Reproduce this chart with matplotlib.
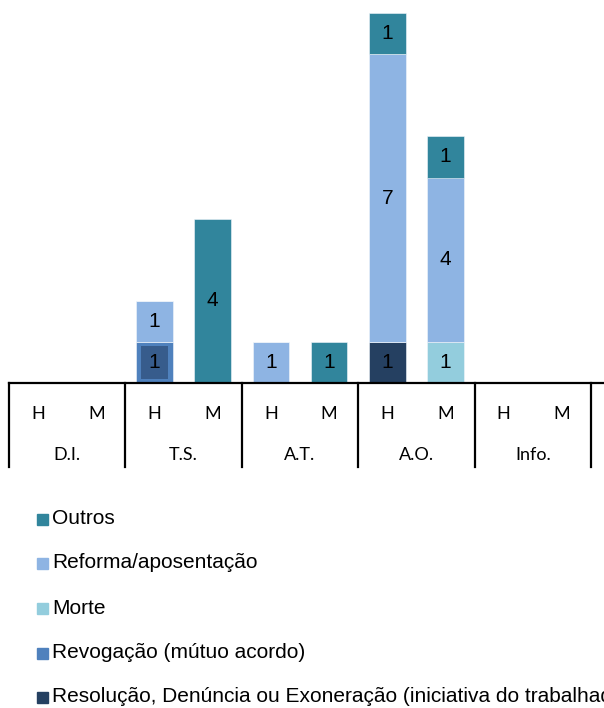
import numpy as np
import matplotlib.pyplot as plt
from matplotlib.patches import Rectangle

# Categories and sex sub-groups
grupos = ['D.I.', 'T.S.', 'A.T.', 'A.O.', 'Info.']
sexo = ['H', 'M']

# Values per slot (H, M for each group), stacked bottom to top
resolucao = [0, 0, 0, 0, 0, 0, 1, 0, 0, 0]
revogacao = [0, 0, 1, 0, 0, 0, 0, 0, 0, 0]
morte = [0, 0, 0, 0, 0, 0, 0, 1, 0, 0]
reforma = [0, 0, 1, 0, 1, 0, 7, 4, 0, 0]
outros = [0, 0, 0, 4, 0, 1, 1, 1, 0, 0]

series = [
    ('Resolução, Denúncia ou Exoneração (iniciativa do trabalhador)', resolucao, '#254061'),
    ('Revogação (mútuo acordo)', revogacao, '#4F81BD'),
    ('Morte', morte, '#93CDDD'),
    ('Reforma/aposentação', reforma, '#8EB4E3'),
    ('Outros', outros, '#31859C'),
]

W, H = 604, 708
fig = plt.figure(figsize=(W / 100, H / 100), dpi=100)
# axes: baseline at y=383 px, left edge at x=9 px, running past the right side
ax = fig.add_axes([9 / W, (H - 383) / H, 1 - 9 / W, 383 / H])

x = np.arange(len(resolucao))
bottom = np.zeros(len(x))
for nome, vals, cor in series:
    vals = np.array(vals, dtype=float)
    ax.bar(x, vals, width=0.63, bottom=bottom, color=cor,
           edgecolor='#f2f6fb', linewidth=0.4, zorder=2)
    for xi, v, b in zip(x, vals, bottom):
        if v > 0:
            kw = {}
            if cor == '#4F81BD':
                kw['bbox'] = dict(boxstyle='square,pad=0.35', fc='#375C8C', ec='none')
            ax.text(xi, b + v / 2, f'{int(v)}', ha='center', va='center',
                    fontsize=15, family='Liberation Sans', color='black', zorder=3, **kw)
    bottom += vals

unit = 41.1
ax.set_xlim(-0.5, -0.5 + (W - 9) / 58.2)
ax.set_ylim(0, 383 / unit)
ax.axis('off')

# baseline
ax.axhline(0, color='black', lw=1.6, zorder=4, clip_on=False)

# group separators and category labels below the axis
trans = ax.get_xaxis_transform()
drop = 84 / 383
for g in range(len(grupos) + 1):
    ax.plot([g * 2 - 0.5] * 2, [0, -drop], transform=trans, color='black',
            lw=1.6, clip_on=False)
for i, xi in enumerate(x):
    ax.text(xi, -31 / 383, sexo[i % 2], transform=trans, ha='center', va='center',
            fontsize=13, family='Lato')
for g, nome in enumerate(grupos):
    ax.text(g * 2 + 0.5, -72 / 383, nome, transform=trans, ha='center', va='center',
            fontsize=13, family='Lato')

# legend, top entry first
rows = [519, 563, 608, 653, 697]
for (nome, vals, cor), yc in zip(series[::-1], rows):
    fig.patches.append(Rectangle((37 / W, (H - yc - 5.5) / H), 11 / W, 11 / H,
                                 transform=fig.transFigure, color=cor))
    fig.text(52 / W, (H - yc) / H, nome, ha='left', va='center',
             fontsize=15, family='Liberation Sans')

plt.savefig('out.png', dpi=100)
plt.close()
